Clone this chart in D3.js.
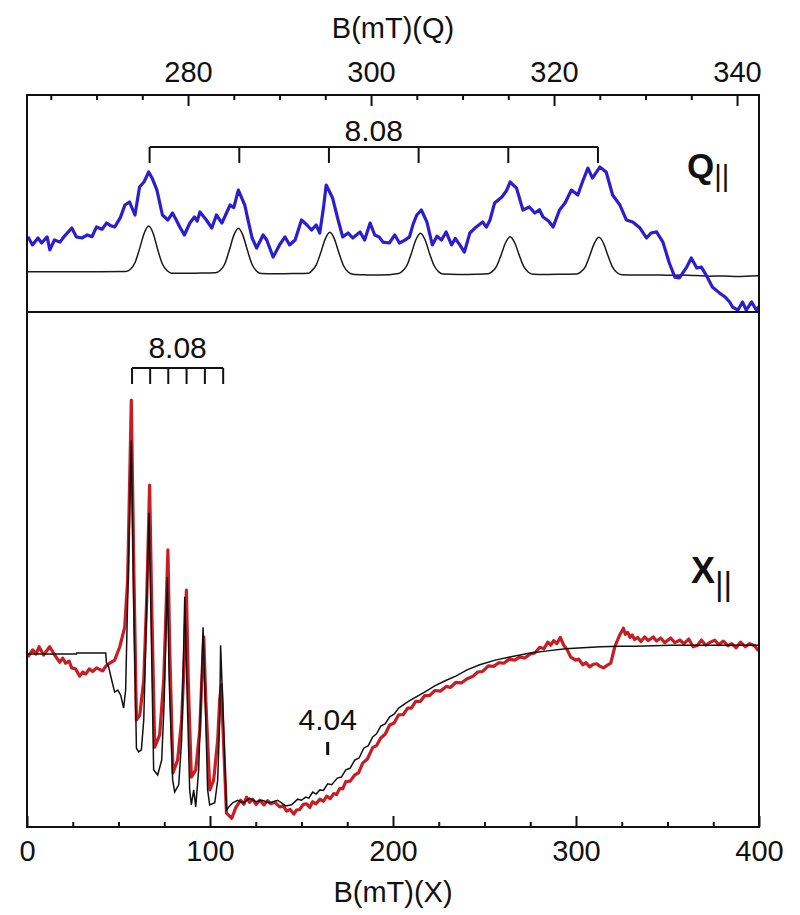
<!DOCTYPE html>
<html>
<head>
<meta charset="utf-8">
<script src="https://cdn.jsdelivr.net/npm/d3@7"></script>
<style>
  body { margin: 0; background: #ffffff; }
</style>
</head>
<body>
<div id="chart"></div>
<script>
// ---- data: [field (mT), intensity (a.u.)] ----

// Q-band, experiment (blue)
const qExperiment = [
  [262.5,17.2],[263.0,13.4],[263.6,16.6],[264.0,14.3],[264.6,17.1],[264.9,11.1],[265.4,15.7],[266.0,14.7],
  [266.5,17.5],[267.3,21.2],[267.8,17.1],[268.4,16.6],[269.0,18.0],[269.5,17.2],[270.0,21.7],[270.6,20.6],
  [271.1,23.5],[271.5,22.4],[272.0,21.7],[272.6,26.0],[273.1,31.8],[273.6,33.2],[274.2,27.2],[274.7,40.1],
  [275.2,42.5],[275.7,47.0],[276.1,44.0],[276.6,38.7],[277.2,27.2],[277.8,24.9],[278.3,28.1],[278.7,25.0],
  [279.1,21.7],[279.6,18.0],[280.2,23.5],[280.7,26.3],[281.0,24.4],[281.3,28.6],[282.0,24.9],[282.6,21.2],
  [283.1,27.2],[283.7,23.5],[284.6,31.8],[285.0,30.6],[285.5,38.7],[286.2,31.8],[286.6,24.0],[287.0,16.6],
  [287.5,12.0],[288.2,18.0],[288.6,15.7],[289.3,7.8],[290.0,13.4],[290.6,17.1],[291.1,13.4],[291.7,15.7],
  [292.4,24.9],[293.0,22.6],[293.5,20.3],[294.0,22.6],[294.4,18.9],[294.8,30.5],[295.1,41.0],[295.8,35.0],
  [296.4,24.9],[296.9,17.1],[297.5,18.9],[298.0,16.6],[298.8,19.4],[299.3,15.7],[299.9,23.5],[300.4,18.0],
  [300.9,17.0],[301.3,14.7],[302.0,14.3],[302.6,18.0],[303.1,14.3],[303.7,15.6],[304.2,17.1],[304.6,23.0],
  [305.0,27.2],[305.5,29.5],[306.1,24.0],[306.7,13.4],[307.2,17.4],[307.7,15.7],[308.2,19.4],[308.8,13.4],
  [309.2,16.4],[309.7,13.4],[310.2,10.1],[310.8,18.9],[311.5,21.7],[312.2,24.0],[312.6,21.6],[313.0,24.9],
  [313.5,32.7],[314.3,35.5],[314.8,38.4],[315.2,42.4],[315.9,39.6],[316.6,29.5],[317.3,30.9],[317.9,28.1],
  [318.4,29.6],[318.8,26.3],[319.4,24.4],[319.9,21.7],[320.6,29.5],[321.2,32.7],[321.9,38.7],[322.6,36.4],
  [323.1,42.4],[323.7,48.8],[324.2,44.2],[325.0,49.3],[325.7,47.0],[326.4,36.4],[327.2,31.8],[327.9,24.9],
  [328.6,24.0],[329.4,21.2],[330.1,16.6],[330.6,18.9],[331.2,19.4],[331.9,14.7],[332.6,5.1],[333.2,-1.4],
  [333.7,-1.8],[334.5,3.2],[335.0,7.4],[335.6,2.8],[336.1,3.2],[336.8,-1.8],[337.3,-6.0],[338.1,-8.8],
  [338.7,-10.6],[339.2,-12.9],[339.5,-15.2],[340.1,-16.6],[340.6,-12.9],[341.0,-16.6],[341.6,-12.9],
  [342.1,-16.6],[342.4,-15.0]
];

// Q-band, simulation (black)
const qSimulation = [
  [262.4,1.1],[270.0,1.1],[273.2,1.2],[273.7,2.2],[274.2,5.2],[274.7,11.6],[275.2,18.7],[275.7,22.1],
  [276.2,18.6],[276.7,11.0],[277.2,4.6],[277.7,1.6],[278.2,0.4],[279.5,0.3],[282.0,0.5],[283.0,0.6],
  [283.5,1.6],[284.0,4.5],[284.5,10.8],[285.0,17.8],[285.5,21.1],[286.0,17.8],[286.5,10.8],[287.0,4.4],
  [287.5,1.3],[288.0,0.2],[289.5,0.1],[291.5,0.2],[293.2,0.4],[293.5,1.4],[294.0,4.1],[294.5,9.8],
  [295.0,16.2],[295.5,19.2],[296.0,16.1],[296.5,9.6],[297.0,3.8],[297.5,0.9],[298.0,-0.1],[299.5,-0.4],
  [301.0,-0.5],[303.0,0.2],[303.4,1.2],[303.9,3.8],[304.4,9.4],[304.9,15.8],[305.4,18.8],[305.9,15.8],
  [306.4,9.4],[306.9,3.8],[307.4,1.0],[307.9,0.0],[309.5,-0.2],[311.5,-0.1],[312.8,0.1],[313.2,1.0],
  [313.7,3.4],[314.2,8.6],[314.7,14.4],[315.2,17.2],[315.7,14.4],[316.2,8.6],[316.7,3.4],[317.2,0.8],
  [317.7,-0.1],[319.0,-0.2],[321.0,-0.1],[322.5,0.0],[322.9,0.9],[323.4,3.2],[323.9,8.4],[324.4,14.1],
  [324.9,16.9],[325.4,14.2],[325.9,8.4],[326.4,3.2],[326.9,0.6],[327.4,-0.3],[329.0,-0.5],[331.0,-0.4],
  [332.5,-0.6],[334.0,-0.5],[335.5,-0.7],[337.0,-1.0],[338.5,-0.9],[340.0,-1.1],[341.5,-0.9],[342.4,-0.8]
];

// X-band, experiment (red)
const xExperiment = [
  [0.4,-0.4],[3.1,1.0],[5.0,0.2],[6.6,1.6],[9.1,0.0],[12.4,1.6],[15.1,0.0],[17.9,-1.4],[19.5,-0.6],
  [21.1,-1.6],[23.0,-1.2],[24.4,-2.5],[26.5,-2.7],[28.8,-4.1],[30.5,-3.3],[32.1,-3.7],[34.0,-2.7],
  [35.9,-3.2],[38.0,-2.5],[41.4,-3.1],[43.0,-2.2],[45.2,-1.6],[47.9,-1.0],[50.7,1.6],[53.4,5.4],
  [55.0,14.6],[57.0,49.5],[58.3,18.4],[59.8,-12.6],[61.6,-11.7],[63.8,-4.9],[65.4,10.7],[67.0,33.0],
  [68.1,10.7],[69.8,-17.9],[72.5,-15.5],[74.7,-4.9],[75.8,6.8],[77.0,20.4],[78.0,1.0],[79.8,-22.9],
  [82.3,-20.4],[84.5,-12.6],[86.2,1.0],[87.1,12.6],[88.1,-4.9],[89.8,-23.7],[92.2,-22.3],[94.4,-14.6],
  [95.5,-4.9],[96.6,3.5],[97.7,-8.7],[99.9,-26.2],[102.0,-24.3],[104.2,-16.5],[105.3,-8.7],[106.2,-5.8],
  [106.9,-12.6],[109.0,-30.7],[111.9,-31.7],[114.0,-29.7],[116.8,-28.2],[118.5,-29.0],[120.0,-27.6],
  [121.6,-28.6],[123.3,-28.0],[125.2,-29.0],[127.2,-28.2],[129.5,-29.1],[131.5,-28.3],[133.2,-28.9],
  [135.5,-28.6],[138.1,-29.5],[140.0,-29.3],[141.9,-30.3],[143.8,-30.0],[145.8,-30.9],[147.3,-30.1],
  [149.0,-30.0],[150.9,-29.0],[152.8,-28.9],[154.5,-29.6],[156.1,-28.5],[158.0,-28.9],[160.0,-28.0],
  [162.0,-28.4],[163.8,-27.4],[165.7,-27.9],[167.6,-26.9],[169.2,-27.1],[170.9,-25.9],[172.5,-26.0],
  [174.2,-24.6],[176.6,-24.5],[179.1,-23.3],[181.2,-22.9],[183.4,-21.0],[186.0,-20.2],[188.9,-18.0],
  [191.0,-17.6],[193.3,-16.1],[195.7,-15.4],[198.2,-13.6],[200.6,-13.2],[203.1,-11.6],[205.5,-11.6],
  [208.0,-10.3],[210.0,-10.3],[212.4,-9.0],[215.0,-9.0],[217.3,-7.9],[220.0,-7.9],[222.8,-6.9],
  [226.0,-7.0],[229.1,-6.1],[231.5,-6.3],[234.3,-5.3],[237.5,-5.4],[240.5,-4.6],[243.5,-4.2],[246.3,-3.3],
  [249.0,-3.2],[252.1,-2.1],[255.0,-2.2],[257.8,-1.5],[260.5,-1.6],[263.6,-0.8],[266.5,-1.0],[269.2,-0.4],
  [272.0,-0.6],[275.1,0.2],[277.5,0.4],[280.2,1.5],[282.5,1.2],[284.6,2.5],[286.2,1.9],[287.8,2.8],
  [289.5,2.2],[291.4,3.4],[293.3,1.9],[295.2,1.0],[297.1,-0.4],[299.8,-1.0],[301.5,-0.8],[303.7,-1.9],
  [305.5,-1.5],[307.5,-2.3],[309.5,-1.8],[311.3,-1.7],[313.0,-2.2],[315.1,-2.5],[317.0,-2.0],[319.0,-1.6],
  [321.2,1.6],[323.9,3.9],[325.9,5.2],[327.0,4.0],[328.3,4.4],[329.5,3.4],[330.7,3.9],[332.0,3.0],
  [333.7,3.4],[335.5,2.6],[337.5,3.5],[339.5,2.8],[342.2,3.5],[344.0,2.7],[346.3,3.3],[348.5,2.4],
  [351.7,3.3],[354.0,2.4],[356.7,2.9],[359.0,2.2],[361.6,3.1],[364.0,1.6],[366.5,1.9],[368.5,2.9],
  [370.9,1.9],[373.0,2.4],[375.8,2.9],[378.0,2.0],[380.5,2.7],[383.0,1.8],[385.1,2.2],[387.5,1.4],
  [390.0,2.5],[392.5,1.6],[394.9,2.2],[397.6,1.8],[399.7,0.8]
];

// X-band, simulation (black)
const xSimulation = [
  [0.4,0.2],[27.0,0.2],[27.2,0.4],[43.0,0.4],[43.4,-1.4],[44.6,-2.3],[46.3,-4.9],[47.9,-7.2],[49.6,-6.8],
  [51.2,-7.8],[52.8,-10.3],[53.9,-6.8],[55.0,10.7],[57.0,41.7],[58.3,10.7],[59.8,-18.1],[61.0,-18.8],
  [62.5,-18.4],[63.8,-12.6],[64.9,2.9],[66.7,27.6],[67.6,10.7],[69.2,-22.3],[71.4,-23.3],[73.6,-20.4],
  [75.0,-8.7],[76.7,15.1],[77.7,-4.9],[79.6,-24.3],[80.7,-26.6],[82.9,-25.2],[84.5,-16.5],[86.2,11.3],
  [87.3,-4.9],[88.9,-26.2],[89.8,-29.1],[91.1,-26.2],[92.2,-29.5],[93.8,-22.3],[95.2,-6.8],[96.2,5.4],
  [97.4,-8.7],[98.7,-26.2],[99.8,-29.1],[102.6,-28.7],[104.2,-24.3],[105.3,-12.6],[105.8,1.9],[106.9,-8.7],
  [109.0,-30.1],[110.8,-29.3],[112.4,-28.7],[115.1,-28.2],[118.4,-28.7],[121.7,-27.8],[125.0,-28.5],
  [128.3,-28.2],[132.6,-28.7],[137.0,-28.2],[141.4,-29.3],[144.6,-29.1],[147.9,-28.0],[150.0,-28.2],
  [152.3,-27.6],[154.0,-27.8],[156.1,-26.6],[158.0,-27.0],[160.0,-26.2],[162.0,-26.3],[164.3,-25.0],
  [166.5,-25.2],[169.6,-23.9],[171.8,-23.7],[174.2,-22.3],[176.5,-22.0],[179.1,-20.4],[181.5,-20.0],
  [184.0,-18.1],[186.5,-17.6],[188.9,-15.9],[191.0,-15.3],[193.3,-13.8],[195.7,-13.4],[198.2,-12.0],
  [200.6,-11.5],[203.1,-10.3],[208.0,-9.1],[212.4,-8.2],[217.3,-7.2],[222.8,-6.0],[229.1,-4.9],
  [234.3,-4.1],[240.5,-2.9],[247.4,-1.9],[255.9,-1.0],[263.8,-0.4],[275.1,0.4],[284.5,0.8],[294.3,1.2],
  [303.7,1.4],[313.5,1.6],[323.9,1.7],[332.6,1.7],[351.7,1.9],[370.9,1.9],[389.5,1.9],[399.7,1.9]
];

// axis ticks (mT)
const qMajorTicks = [280, 300, 320, 340];
const qMinorTicks = [265, 270, 275, 285, 290, 295, 305, 310, 315, 325, 330, 335];
const xMajorTicks = [0, 100, 200, 300, 400];
const xMinorTicks = [25, 50, 75, 125, 150, 175, 225, 250, 275, 325, 350, 375];

// hyperfine stick markers (mT) and their labels
const qSticks = [275.8, 285.6, 295.4, 305.2, 315.0, 324.8];
const xSticks = [57.4, 67.3, 77.2, 87.2, 97.2, 107.2];
const stickLabel = "8.08";
const gMarker = 164.3;
const gMarkerLabel = "4.04";

drawChart();

function drawChart() {
  let width = 800,
    height = 915;

  // frame of both panels
  let frame = { left: 27, right: 759, top: 95, mid: 312, bottom: 827 };
  let font = "'Liberation Sans', Arial, Helvetica, sans-serif";

  let svg = d3
    .select("#chart")
    .append("svg")
    .attr("width", width)
    .attr("height", height)
    .style("font-family", font);

  // Scales
  let xQ = d3.scaleLinear().domain([262.4, 342.4]).range([frame.left, frame.right]);
  let xX = d3.scaleLinear().domain([0, 400]).range([frame.left, frame.right]);
  let yQ = d3.scaleLinear().domain([-17.5, 82.5]).range([frame.mid, frame.top]);
  let yX = d3.scaleLinear().domain([-33.4, 66.6]).range([frame.bottom, frame.mid]);

  // Clip paths so lines stay inside their panel
  let defs = svg.append("defs");
  defs.append("clipPath").attr("id", "clipQ")
    .append("rect")
    .attr("x", frame.left).attr("y", frame.top)
    .attr("width", frame.right - frame.left).attr("height", frame.mid - frame.top);
  defs.append("clipPath").attr("id", "clipX")
    .append("rect")
    .attr("x", frame.left).attr("y", frame.mid)
    .attr("width", frame.right - frame.left).attr("height", frame.bottom - frame.mid);

  let lineQ = d3.line().x(d => xQ(d[0])).y(d => yQ(d[1]));
  let smoothQ = d3.line().x(d => xQ(d[0])).y(d => yQ(d[1])).curve(d3.curveMonotoneX);
  let lineX = d3.line().x(d => xX(d[0])).y(d => yX(d[1]));

  // Q panel: simulation under experiment
  let gQ = svg.append("g").attr("clip-path", "url(#clipQ)");
  gQ.append("path")
    .attr("d", smoothQ(qSimulation))
    .attr("fill", "none")
    .attr("stroke", "#1a1a1a")
    .attr("stroke-width", 1.5);
  gQ.append("path")
    .attr("d", lineQ(qExperiment))
    .attr("fill", "none")
    .attr("stroke", "#2a1ecf")
    .attr("stroke-width", 3.2)
    .attr("stroke-linejoin", "round");

  // X panel: experiment (red) with simulation on top
  let gX = svg.append("g").attr("clip-path", "url(#clipX)");
  gX.append("path")
    .attr("d", lineX(xExperiment))
    .attr("fill", "none")
    .attr("stroke", "#c81d22")
    .attr("stroke-width", 3.2)
    .attr("stroke-linejoin", "round");
  gX.append("path")
    .attr("d", lineX(xSimulation))
    .attr("fill", "none")
    .attr("stroke", "#111111")
    .attr("stroke-width", 1.5);

  // Top axis (Q field)
  let topMinor = svg.append("g")
    .attr("transform", "translate(0," + frame.top + ")")
    .call(d3.axisTop(xQ).tickValues(qMinorTicks).tickSize(-5).tickFormat(""));
  let topMajor = svg.append("g")
    .attr("transform", "translate(0," + frame.top + ")")
    .call(d3.axisTop(xQ).tickValues(qMajorTicks).tickSize(-11).tickPadding(13).tickFormat(d3.format("d")));

  // Bottom axis (X field)
  let botMinor = svg.append("g")
    .attr("transform", "translate(0," + frame.bottom + ")")
    .call(d3.axisBottom(xX).tickValues(xMinorTicks).tickSize(-5).tickFormat(""));
  let botMajor = svg.append("g")
    .attr("transform", "translate(0," + frame.bottom + ")")
    .call(d3.axisBottom(xX).tickValues(xMajorTicks).tickSize(-11).tickPadding(13).tickFormat(d3.format("d")));

  [topMinor, topMajor, botMinor, botMajor].forEach(function (g) {
    g.select(".domain").remove();
    g.selectAll("line").attr("stroke", "#111").attr("stroke-width", 2);
    g.selectAll("text")
      .style("font-family", font)
      .style("font-size", "29px")
      .attr("fill", "#111");
  });

  // Frame and panel divider
  svg.append("rect")
    .attr("x", frame.left)
    .attr("y", frame.top)
    .attr("width", frame.right - frame.left)
    .attr("height", frame.bottom - frame.top)
    .attr("fill", "none")
    .attr("stroke", "#111")
    .attr("stroke-width", 2);
  svg.append("line")
    .attr("x1", frame.left).attr("x2", frame.right)
    .attr("y1", frame.mid).attr("y2", frame.mid)
    .attr("stroke", "#111")
    .attr("stroke-width", 2);

  // Axis titles
  let cx = (frame.left + frame.right) / 2;
  svg.append("text")
    .attr("x", cx).attr("y", 38)
    .attr("text-anchor", "middle")
    .style("font-size", "29px")
    .attr("fill", "#111")
    .text("B(mT)(Q)");
  svg.append("text")
    .attr("x", cx).attr("y", 902)
    .attr("text-anchor", "middle")
    .style("font-size", "29px")
    .attr("fill", "#111")
    .text("B(mT)(X)");

  // Stick diagram over the spectra
  function sticks(scale, values, yLine, tickLen, labelY) {
    let g = svg.append("g").attr("stroke", "#111").attr("stroke-width", 2);
    g.append("line")
      .attr("x1", scale(values[0]))
      .attr("x2", scale(values[values.length - 1]))
      .attr("y1", yLine).attr("y2", yLine);
    g.selectAll("line.tick")
      .data(values)
      .enter()
      .append("line")
      .attr("class", "tick")
      .attr("x1", d => scale(d)).attr("x2", d => scale(d))
      .attr("y1", yLine).attr("y2", yLine + tickLen);
    svg.append("text")
      .attr("x", (scale(values[0]) + scale(values[values.length - 1])) / 2)
      .attr("y", labelY)
      .attr("text-anchor", "middle")
      .style("font-size", "30px")
      .attr("fill", "#111")
      .text(stickLabel);
  }
  sticks(xQ, qSticks, 147, 16, 141);
  sticks(xX, xSticks, 368, 16, 358);

  // g = 4.04 marker
  svg.append("line")
    .attr("x1", xX(gMarker)).attr("x2", xX(gMarker))
    .attr("y1", 742).attr("y2", 755)
    .attr("stroke", "#111")
    .attr("stroke-width", 3);
  svg.append("text")
    .attr("x", xX(gMarker)).attr("y", 730)
    .attr("text-anchor", "middle")
    .style("font-size", "30px")
    .attr("fill", "#111")
    .text(gMarkerLabel);

  // Panel labels
  let qLab = svg.append("text")
    .attr("x", 687).attr("y", 178)
    .attr("fill", "#111")
    .style("font-size", "35px")
    .style("font-weight", "bold")
    .text("Q");
  qLab.append("tspan")
    .attr("dy", 8)
    .style("font-size", "29px")
    .style("font-weight", "normal")
    .text("||");

  let xLab = svg.append("text")
    .attr("x", 691).attr("y", 583)
    .attr("fill", "#111")
    .style("font-size", "36px")
    .style("font-weight", "bold")
    .text("X");
  xLab.append("tspan")
    .attr("dy", 12)
    .style("font-size", "33px")
    .style("font-weight", "normal")
    .text("||");
}
</script>
</body>
</html>
